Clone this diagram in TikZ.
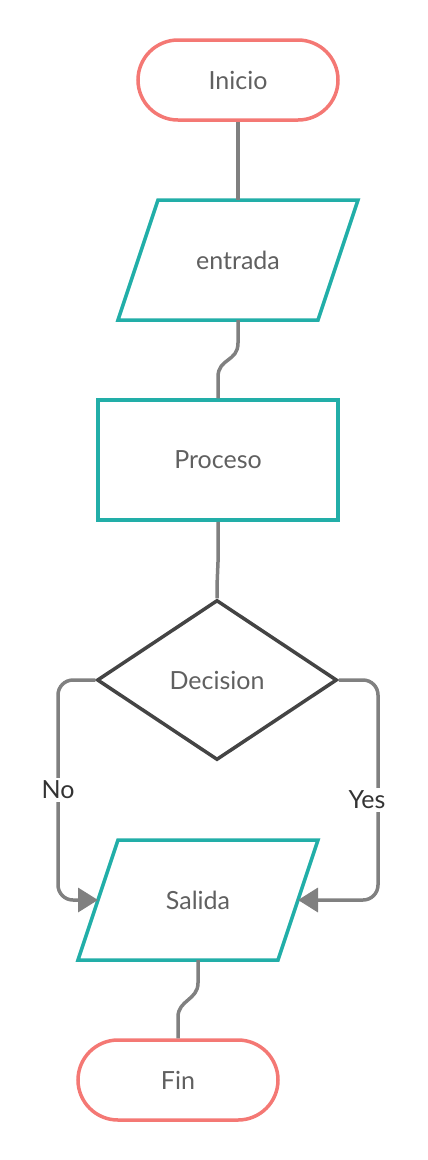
\documentclass[tikz,border=0pt]{standalone}
\usepackage{fontspec}
\setmainfont{Lato}
\usetikzlibrary{shapes.geometric,arrows.meta}
\definecolor{salmon}{HTML}{F47874}
\definecolor{tealc}{HTML}{22AEA8}
\definecolor{connc}{HTML}{808080}
\definecolor{diac}{HTML}{444444}
\definecolor{txtc}{HTML}{606060}
\definecolor{lblc}{HTML}{333333}
\begin{document}
\begin{tikzpicture}[x=1pt,y=-1pt,
  base/.style={line width=3.5pt, inner sep=0pt, font=\fontsize{25}{29}\selectfont, text=txtc},
  term/.style={base, draw=salmon, rectangle, rounded corners=40pt, minimum width=200pt, minimum height=80pt},
  iotext/.style={base, rectangle, minimum width=200pt, minimum height=120pt},
  ioshape/.style={draw=tealc, line width=3.5pt, line join=miter},
  proc/.style={base, draw=tealc, rectangle, minimum width=240pt, minimum height=120pt},
  dec/.style={base, draw=diac, diamond, aspect=1.5, minimum width=240pt, minimum height=160pt},
  conn/.style={draw=connc, line width=3.5pt},
  arr/.style={conn, rounded corners=15pt, -{Triangle[length=20pt,width=24pt]}},
  lbl/.style={fill=white, inner sep=3pt, font=\fontsize{25}{29}\selectfont, text=lblc}]
\useasboundingbox (0,0) rectangle (428,1160);
\node[term] (ini) at (238,80) {Inicio};
% entrada (parallelogram)
\node[iotext] (ent) at (238,260) {entrada};
\coordinate (entT) at (238,200);
\coordinate (entB) at (238,320);
\draw[ioshape] (158,200) -- (358,200) -- (318,320) -- (118,320) -- cycle;
\node[proc] (pro) at (218,460) {Proceso};
\node[dec] (deci) at (217,680) {Decision};
% salida (parallelogram)
\node[iotext] (sal) at (198,900) {Salida};
\coordinate (salL) at (98,900);
\coordinate (salR) at (298,900);
\coordinate (salB) at (198,960);
\draw[ioshape] (118,840) -- (318,840) -- (278,960) -- (78,960) -- cycle;
\node[term] (fin) at (178,1080) {Fin};
\draw[conn] (ini.south) -- (entT);
\draw[conn] (entB) -- (238,343) .. controls (238,362) and (218,358) .. (218,377) -- (pro.north);
\draw[conn] (pro.south) -- (218,562) .. controls (218,574) and (217,574) .. (217,586) -- (deci.north);
\draw[arr] (deci.west) -- (58,680) -- (58,900) -- (salL);
\node[lbl] (no) at (58,790) {No};
\draw[arr] (deci.east) -- (378,680) -- (378,900) -- (salR);
\node[lbl] (yes) at (367,800) {Yes};
\draw[conn] (salB) -- (198,983) .. controls (198,1000) and (178,1000) .. (178,1017) -- (fin.north);
\end{tikzpicture}
\end{document}
